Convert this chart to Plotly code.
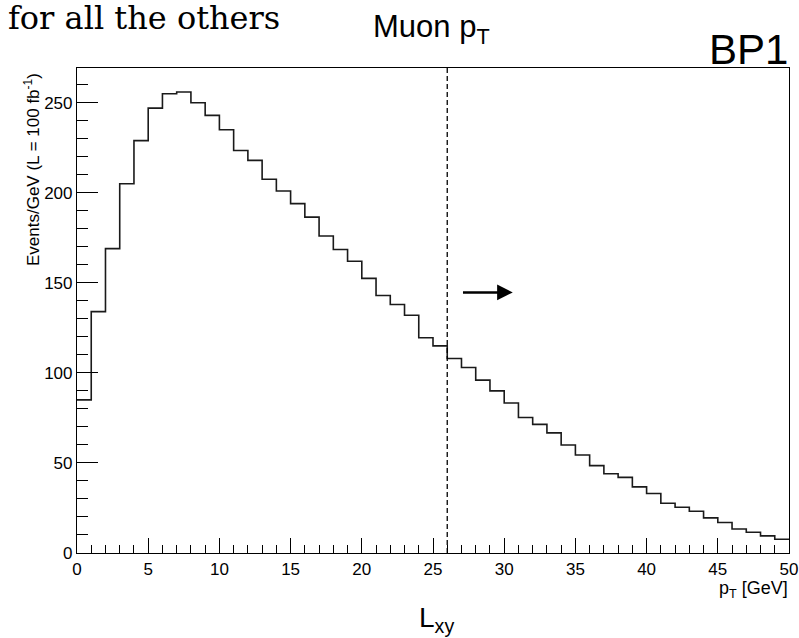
import numpy as np
import plotly.graph_objects as go

# Muon pT histogram (BP1), 1 GeV bins from 0 to 50
bin_width = 1.0
events_per_gev = [
    85, 134, 169, 205, 229, 247, 255, 256, 250, 243,
    235, 223.5, 218, 207.5, 201, 194, 186.5, 176, 168.5, 162,
    152.5, 143, 138, 132, 119.5, 115, 108, 103, 96, 90,
    83.3, 75.2, 71.4, 66.7, 60, 54.4, 48.5, 44, 42, 36.7,
    33, 27.6, 25.4, 23.2, 19.5, 16.9, 13.3, 11.5, 9.5, 7.6,
]
pt_cut = 26.0
arrow_from = 27.0
arrow_to = 30.6
arrow_level = 144.7
x_range = [0, 50]
y_range = [0, 269.3]

edges = np.arange(len(events_per_gev) + 1) * bin_width
step_y = list(events_per_gev) + [events_per_gev[-1]]

FONT = "Liberation Sans, Arial, Helvetica, sans-serif"

fig = go.Figure()
fig.add_trace(go.Scatter(
    x=edges, y=step_y, mode="lines", line_shape="hv",
    line=dict(color="#1a1a1a", width=1.6), showlegend=False, hoverinfo="skip",
))

fig.add_shape(type="line", xref="x", yref="paper", x0=pt_cut, x1=pt_cut, y0=0, y1=1,
              line=dict(color="black", width=1.3, dash="5px,3px"))

fig.add_annotation(x=arrow_to, y=arrow_level, ax=arrow_from, ay=arrow_level,
                   xref="x", yref="y", axref="x", ayref="y", text="",
                   showarrow=True, arrowhead=2, arrowsize=1.25, arrowwidth=2.5,
                   arrowcolor="black")

annots = [
    dict(text="for all the others", x=(7 - 77) / 712, y=(553 - 18) / 485, xanchor="left",
         yanchor="middle", font=dict(family="DejaVu Serif, serif", size=32, color="black")),
    dict(text="Muon p<sub>T</sub>", x=(372 - 77) / 712, y=(553 - 28.5) / 485, xanchor="left",
         yanchor="middle", font=dict(family=FONT, size=31, color="black")),
    dict(text="BP1", x=1.0, y=(553 - 50) / 485, xanchor="right", yanchor="middle",
         font=dict(family="Liberation Sans Narrow, Liberation Sans, Arial", size=42, color="black")),
    dict(text="L<sub>xy</sub>", x=(436 - 77) / 712, y=(553 - 619) / 485, xanchor="center",
         yanchor="middle", font=dict(family=FONT, size=28, color="black")),
    dict(text="p<sub>T</sub> [GeV]", x=1.0, y=(553 - 589) / 485, xanchor="right",
         yanchor="middle", font=dict(family=FONT, size=18, color="black")),
    dict(text="Events/GeV (L = 100 fb<sup>-1</sup>)", x=(32 - 77) / 712, y=(553 - 170) / 485,
         xanchor="center", yanchor="middle", textangle=-90,
         font=dict(family=FONT, size=17, color="black")),
]
for a in annots:
    fig.add_annotation(xref="paper", yref="paper", showarrow=False, borderpad=0, **a)

fig.update_layout(
    width=799, height=638,
    margin=dict(l=77, r=10, t=68, b=85, autoexpand=False),
    paper_bgcolor="white", plot_bgcolor="white",
    font=dict(family=FONT, color="black"),
)
fig.update_xaxes(
    range=x_range, dtick=5, tick0=0, ticks="inside", ticklen=15, tickwidth=1, tickcolor="black",
    showline=True, linecolor="black", linewidth=1.2, mirror=True, showgrid=False, zeroline=False,
    automargin=False,
    tickfont=dict(size=17, family=FONT, color="black"),
    minor=dict(ticks="inside", ticklen=7.5, dtick=1, tickwidth=1, tickcolor="black", showgrid=False),
)
fig.update_yaxes(
    range=y_range, dtick=50, tick0=0, ticks="inside", ticklen=21, tickwidth=1, tickcolor="black",
    showline=True, linecolor="black", linewidth=1.2, mirror=True, showgrid=False, zeroline=False,
    automargin=False,
    tickfont=dict(size=17, family=FONT, color="black"),
    minor=dict(ticks="inside", ticklen=11, dtick=10, tickwidth=1, tickcolor="black", showgrid=False),
)

fig.write_html("out.html")
